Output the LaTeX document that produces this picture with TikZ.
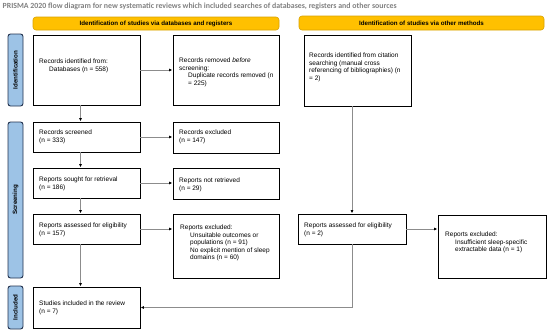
\documentclass[tikz,border=0pt]{standalone}
\usepackage{fontspec}
\setmainfont{Liberation Sans}
\newfontfamily\titlefont{Carlito}
\usetikzlibrary{arrows.meta,calc}
\definecolor{baryellow}{HTML}{FFC000}
\definecolor{barborder}{HTML}{D9A200}
\definecolor{sidefill}{HTML}{9DC3E6}
\definecolor{sideborder}{HTML}{22324F}
\definecolor{linegray}{HTML}{8C8C8C}
\definecolor{titlegray}{HTML}{808080}
\begin{document}
\begin{tikzpicture}[x=1pt,y=-1pt,
  box/.style={draw=black,line width=0.8pt,fill=white,inner sep=0pt,outer sep=0pt,anchor=north west},
  txt/.style={anchor=north west,inner sep=0pt,align=left,font=\fontsize{6.5}{7.5}\selectfont},
  side/.style={draw=sideborder,fill=sidefill,line width=0.9pt,rounded corners=2.5pt,rotate=90,
    minimum height=15pt,inner sep=0pt,font=\bfseries\fontsize{6.2}{7}\selectfont},
  bar/.style={draw=barborder,fill=baryellow,line width=0.6pt,rounded corners=3pt,inner sep=0pt,
    font=\bfseries\fontsize{6.2}{7}\selectfont},
  conn/.style={draw=linegray,line width=0.6pt,-{Triangle[length=2.8pt,width=2.6pt,color=black]},shorten >=1pt}
]
\useasboundingbox (0,0) rectangle (550,332);
\fill[white] (0,0) rectangle (550,332);

\node[anchor=west,inner sep=0pt,text=titlegray,font=\titlefont\bfseries\fontsize{7.85}{8.5}\selectfont] (title) at (2.5,6)
  {PRISMA 2020 flow diagram for new systematic reviews which included searches of databases, registers and other sources};

\node[bar,minimum width=246pt,minimum height=13pt] (bar1) at (156,23.5) {Identification of studies via databases and registers};
\node[bar,minimum width=245pt,minimum height=14pt] (bar2) at (421.5,23) {Identification of studies via other methods};

\node[side,minimum width=72pt] (sid) at (15.5,70) {Identification};
\node[side,minimum width=156pt] (sscr) at (15.5,200) {Screening};
\node[side,minimum width=43pt] (sinc) at (15.5,307.5) {Included};

% boxes
\node[box,minimum width=107pt,minimum height=70pt] (a1) at (33,35) {};
\node[box,minimum width=106pt,minimum height=70pt] (b1) at (173,35) {};
\node[box,minimum width=107pt,minimum height=71pt] (c1) at (304,35) {};
\node[box,minimum width=107pt,minimum height=30pt] (a2) at (33,122) {};
\node[box,minimum width=106pt,minimum height=31pt] (b2) at (173,122) {};
\node[box,minimum width=107pt,minimum height=30pt] (a3) at (33,168) {};
\node[box,minimum width=106pt,minimum height=31pt] (b3) at (173,168) {};
\node[box,minimum width=107pt,minimum height=30pt] (a4) at (33,214) {};
\node[box,minimum width=106pt,minimum height=64pt] (b4) at (173,214) {};
\node[box,minimum width=107pt,minimum height=41pt] (a5) at (33,287) {};
\node[box,minimum width=108pt,minimum height=30pt] (c2) at (298,214) {};
\node[box,minimum width=108pt,minimum height=63pt] (d1) at (438,215) {};

% texts
\node[txt] (ta1) at (39,58.9) {Records identified from:\\\hspace*{10pt}Databases (n = 558)};
\node[txt] (tb1) at (179,57.9) {Records removed \textit{before}\\screening:\\\hspace*{9pt}Duplicate records removed (n\\\hspace*{9pt}= 225)};
\node[txt] (tc1) at (309,52.9) {Records identified from citation\\searching (manual cross\\referencing of bibliographies) (n\\= 2)};
\node[txt] (ta2) at (39,129.9) {Records screened\\(n = 333)};
\node[txt] (tb2) at (179,129.9) {Records excluded\\(n = 147)};
\node[txt] (ta3) at (39,176.9) {Reports sought for retrieval\\(n = 186)};
\node[txt] (tb3) at (179,177.9) {Reports not retrieved\\(n = 29)};
\node[txt] (ta4) at (39,222.9) {Reports assessed for eligibility\\(n = 157)};
\node[txt] (tb4) at (180,224.9) {Reports excluded:\\\hspace*{10pt}Unsuitable outcomes or\\\hspace*{10pt}populations (n = 91)\\\hspace*{10pt}No explicit mention of sleep\\\hspace*{10pt}domains (n = 60)};
\node[txt] (ta5) at (39,300.9) {Studies included in the review\\(n = 7)};
\node[txt] (tc2) at (304,222.9) {Reports assessed for eligibility\\(n = 2)};
\node[txt] (td1) at (445,231.9) {Reports excluded:\\\hspace*{10pt}Insufficient sleep-specific\\\hspace*{10pt}extractable data (n = 1)};

% connectors
\coordinate (vx) at (80.5,0);
\coordinate (cx) at (352,0);
\draw[conn] (a1.south -| vx) -- (a2.north -| vx);
\draw[conn] (a2.south -| vx) -- (a3.north -| vx);
\draw[conn] (a3.south -| vx) -- (a4.north -| vx);
\draw[conn] (a4.south -| vx) -- (a5.north -| vx);
\draw[conn] (a1.east) -- (a1.east -| b1.west);
\draw[conn] (a2.east) -- (a2.east -| b2.west);
\draw[conn] (a3.east) -- (a3.east -| b3.west);
\draw[conn] (a4.east) -- (a4.east -| b4.west);
\draw[conn] (c1.south -| cx) -- (c2.north -| cx);
\draw[conn] (c2.east) -- (c2.east -| d1.west);
\draw[conn] (c2.south -| cx) |- (a5.east);
\end{tikzpicture}
\end{document}
